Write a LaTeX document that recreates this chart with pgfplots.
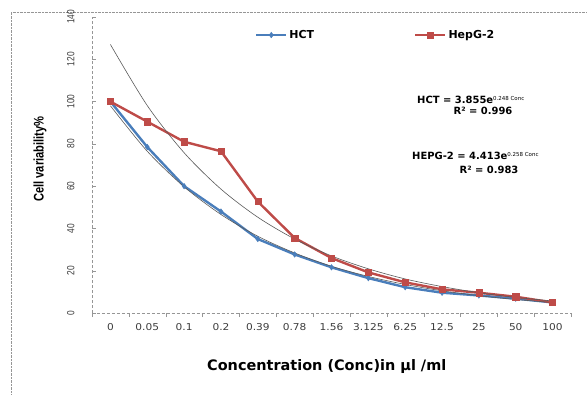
\documentclass[border=0pt]{standalone}
\usepackage{fontspec}
\setmainfont{DejaVu Sans}
\newfontfamily\narrowfont{Liberation Sans}[FakeStretch=0.8]
\newfontfamily\widefont{DejaVu Sans}[FakeStretch=1.12]
\usepackage{pgfplots}
\pgfplotsset{compat=1.18}
\definecolor{hctblue}{RGB}{74,126,187}
\definecolor{hepred}{RGB}{190,75,72}
\definecolor{axgray}{RGB}{150,150,150}
\definecolor{tickgray}{RGB}{60,60,60}
\definecolor{trendgray}{RGB}{90,90,90}
\begin{document}
\begin{tikzpicture}[x=1bp,y=1bp]
\useasboundingbox (0,0) rectangle (587,-394);
\draw[axgray, densely dotted] (11,-394) -- (11,-12) -- (587,-12);
\begin{axis}[
  at={(92bp,-313bp)}, anchor=south west,
  scale only axis, width=479bp, height=296bp,
  xmin=-0.5, xmax=12.5, ymin=0, ymax=140,
  xtick={-0.5,0.5,...,12.5},
  x tick label as interval,
  xticklabels={0,0.05,0.1,0.2,0.39,0.78,1.56,3.125,6.25,12.5,25,50,100},
  ytick={0,20,...,140},
  axis x line*=bottom, axis y line*=left,
  axis line style={axgray, densely dashed},
  tick style={axgray, solid},
  xtick align=outside, ytick align=inside, major tick length=4bp,
  /pgf/number format/assume math mode=true,
  xticklabel style={font=\widefont\fontsize{9.5}{10}\selectfont, text=tickgray, yshift=-3bp},
  yticklabel style={font=\narrowfont\fontsize{10.5}{11}\selectfont, text=tickgray, rotate=90, anchor=south},
  yticklabel shift=14bp,
  xlabel={Concentration (Conc)in µl /ml},
  xlabel style={font=\bfseries\fontsize{14.5}{16}\selectfont, at={(axis description cs:0.49,-0.182)}, anchor=center},
  ylabel={Cell variability\%},
  ylabel style={font=\narrowfont\bfseries\fontsize{14}{16}\selectfont, at={(axis description cs:-0.1086,0.52)}, anchor=center},
  legend columns=2,
  legend style={at={(axis description cs:0.34,0.939)}, anchor=west, draw=none, fill=none, inner sep=0pt,
    font=\bfseries\fontsize{11}{12}\selectfont, nodes={inner sep=2bp},
    /tikz/every even column/.append style={column sep=98bp}},
  legend image code/.code={\draw[#1, mark repeat=2, mark phase=2] plot coordinates {(0bp,0bp) (15bp,0bp) (30bp,0bp)};},
  clip=false,
]
\addplot[hctblue, line width=2.4bp, mark=diamond*, mark size=2.8bp, mark options={solid, line width=0.4bp, fill=hctblue}]
 coordinates {(0,100) (1,78.5) (2,60) (3,48) (4,35) (5,27.7) (6,21.6) (7,16.5) (8,12.2) (9,9.6) (10,8.3) (11,6.8) (12,5)};
\addlegendentry{HCT}
\addplot[hepred, line width=2.4bp, mark=square*, mark size=3.1bp, mark options={solid, line width=0.4bp, fill=hepred}]
 coordinates {(0,100) (1,90.5) (2,81) (3,76.5) (4,52.7) (5,35.5) (6,26) (7,19.2) (8,14.5) (9,11.2) (10,9.6) (11,7.7) (12,5)};
\addlegendentry{HepG-2}
\addplot[trendgray, line width=0.6bp, smooth, forget plot]
 coordinates {(0,98) (1,76.5) (2,59.7) (3,46.6) (4,36.3) (5,28.4) (6,22.1) (7,17.3) (8,13.5) (9,10.5) (10,8.2) (11,6.4) (12,5.0)};
\addplot[trendgray, line width=0.6bp, smooth, forget plot]
 coordinates {(0,127) (1,98.1) (2,75.8) (3,58.6) (4,45.3) (5,35.0) (6,27.0) (7,20.9) (8,16.1) (9,12.5) (10,9.6) (11,7.4) (12,5.7)};
\end{axis}
\node[anchor=west, inner sep=0pt, font=\bfseries\fontsize{10}{12}\selectfont] at (417,-100) {HCT = 3.855e\raisebox{0.7ex}{\mdseries\fontsize{5.5}{6}\selectfont 0.248 Conc}};
\node[anchor=center, inner sep=0pt, font=\bfseries\fontsize{10}{12}\selectfont] at (483,-111) {R² = 0.996};
\node[anchor=west, inner sep=0pt, font=\bfseries\fontsize{10}{12}\selectfont] at (412,-156) {HEPG-2 = 4.413e\raisebox{0.7ex}{\mdseries\fontsize{5.5}{6}\selectfont 0.258 Conc}};
\node[anchor=center, inner sep=0pt, font=\bfseries\fontsize{10}{12}\selectfont] at (489,-170) {R² = 0.983};
\end{tikzpicture}
\end{document}
